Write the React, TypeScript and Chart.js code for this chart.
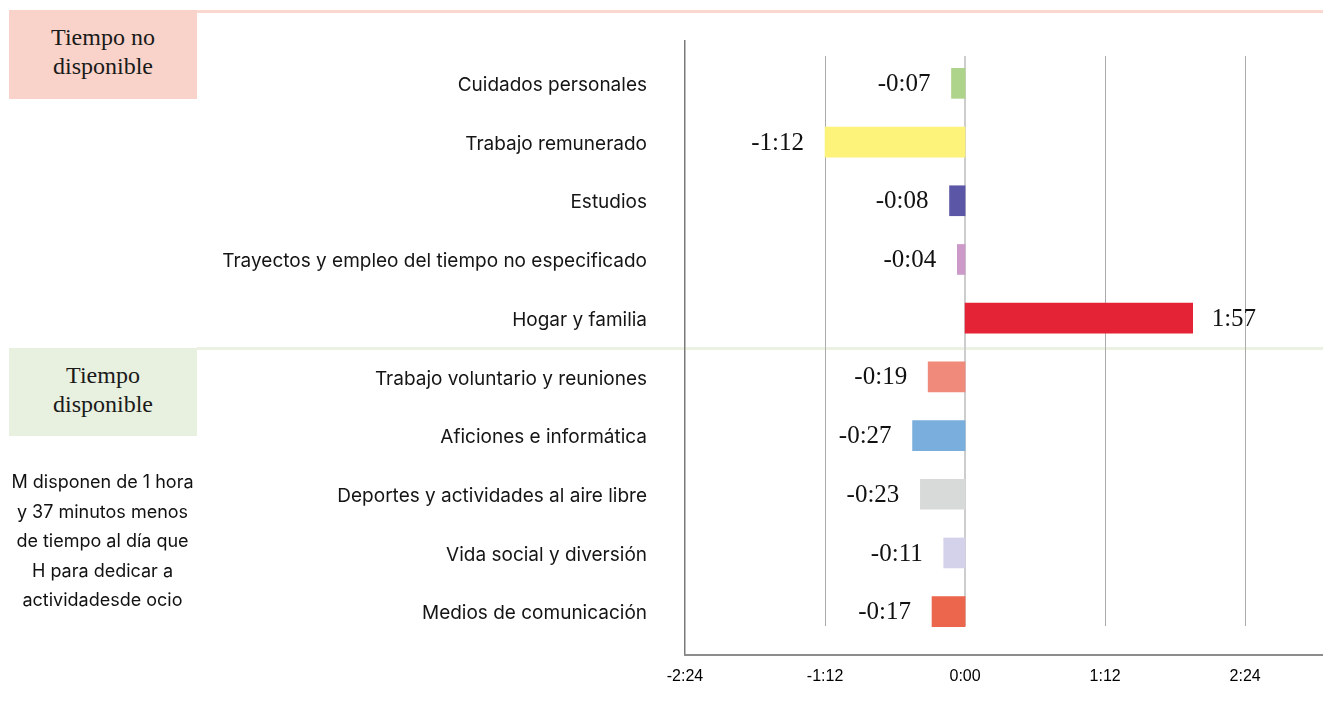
import React, { useEffect, useRef } from 'react';
import { Chart, registerables } from 'chart.js';

Chart.register(...registerables);

const CATEGORIES = [
  'Cuidados personales',
  'Trabajo remunerado',
  'Estudios',
  'Trayectos y empleo del tiempo no especificado',
  'Hogar y familia',
  'Trabajo voluntario y reuniones',
  'Aficiones e informática',
  'Deportes y actividades al aire libre',
  'Vida social y diversión',
  'Medios de comunicación',
];

// difference in minutes per day
const VALUES = [-7, -72, -8, -4, 117, -19, -27, -23, -11, -17];

const COLORS = [
  '#aed38a',
  '#fdf27a',
  '#5b56a6',
  '#cc9ac9',
  '#e52336',
  '#f08a7b',
  '#7aaedd',
  '#d8d9d9',
  '#d4d2ea',
  '#ec654d',
];

const X_TICKS = [-144, -72, 0, 72, 144];
const X_MIN = -144;
const X_MAX = 184;

const NOTE_LINES = [
  'M disponen de 1 hora',
  'y 37 minutos menos',
  'de tiempo al día que',
  'H para dedicar a',
  'actividadesde ocio',
];

function fmt(v: number): string {
  const sign = v < 0 ? '-' : '';
  const a = Math.abs(Math.round(v));
  const h = Math.floor(a / 60);
  const m = a % 60;
  return `${sign}${h}:${m < 10 ? '0' : ''}${m}`;
}

const decor = {
  id: 'decor',
  beforeDraw(chart: any) {
    const ctx = chart.ctx;
    const y = chart.scales.y;
    ctx.save();
    ctx.fillStyle = '#fbd8cf';
    ctx.fillRect(197, 10, 1323 - 197, 3);
    const sepY = (y.getPixelForValue(4) + y.getPixelForValue(5)) / 2;
    ctx.fillStyle = '#ebf2e3';
    ctx.fillRect(197, Math.round(sepY) - 1, 1323 - 197, 3);
    ctx.restore();
  },
  beforeDatasetsDraw(chart: any) {
    const ctx = chart.ctx;
    const ca = chart.chartArea;
    const x = chart.scales.x;
    ctx.save();
    X_TICKS.forEach((v) => {
      if (v === X_MIN) return;
      const px = Math.round(x.getPixelForValue(v));
      if (v === 0) {
        ctx.fillStyle = '#cdcdcd';
        ctx.fillRect(px - 1, ca.top + 2, 2, ca.bottom - ca.top - 17);
      } else {
        ctx.fillStyle = '#ababab';
        ctx.fillRect(px, ca.top + 2, 1, ca.bottom - ca.top - 17);
      }
    });
    // axes
    const left = Math.round(x.getPixelForValue(X_MIN));
    ctx.fillStyle = '#7a7a7a';
    ctx.fillRect(left - 1, 40, 1.5, 615);
    ctx.fillStyle = '#8c8c8c';
    ctx.fillRect(left - 1, 654, 1323 - left + 1, 2);
    ctx.restore();
  },
  afterDatasetsDraw(chart: any) {
    const ctx = chart.ctx;
    const meta = chart.getDatasetMeta(0);
    ctx.save();
    ctx.font = '25px "Liberation Serif", serif';
    ctx.fillStyle = '#111111';
    ctx.textBaseline = 'middle';
    meta.data.forEach((bar: any, i: number) => {
      const v = VALUES[i];
      const txt = fmt(v);
      if (v < 0) {
        ctx.textAlign = 'right';
        ctx.fillText(txt, bar.x - 21, bar.y + 1);
      } else {
        ctx.textAlign = 'left';
        ctx.fillText(txt, bar.x + 19, bar.y + 1);
      }
    });
    ctx.restore();
  },
};

export default function App() {
  const ref = useRef<HTMLCanvasElement | null>(null);

  useEffect(() => {
    if (!ref.current) return;
    const chart = new Chart(ref.current, {
      type: 'bar',
      data: {
        labels: CATEGORIES,
        datasets: [
          {
            data: VALUES,
            backgroundColor: COLORS,
            borderWidth: 0,
            barThickness: 30,
          },
        ],
      },
      options: {
        indexAxis: 'y',
        animation: false,
        responsive: false,
        devicePixelRatio: 1,
        layout: { padding: { top: 54, bottom: 0, left: 0, right: 0 } },
        plugins: {
          legend: { display: false },
          tooltip: { enabled: false },
        },
        scales: {
          x: {
            type: 'linear',
            min: X_MIN,
            max: X_MAX,
            grid: { display: false, drawTicks: false },
            border: { display: false },
            afterBuildTicks: (scale: any) => {
              scale.ticks = X_TICKS.map((v) => ({ value: v }));
            },
            afterFit: (scale: any) => {
              scale.height = 76;
            },
            ticks: {
              autoSkip: false,
              maxRotation: 0,
              padding: 26,
              color: '#000000',
              font: { family: '"Liberation Sans", Arial, sans-serif', size: 16 },
              callback: (v: any) => fmt(Number(v)),
            },
          },
          y: {
            type: 'category',
            grid: { display: false, drawTicks: false },
            border: { display: false },
            afterFit: (scale: any) => {
              scale.width = 685;
            },
            ticks: {
              padding: 38,
              labelOffset: 2,
              color: '#151515',
              font: { family: 'Inter, "Noto Sans", sans-serif', size: 19 },
            },
          },
        },
      },
      plugins: [decor],
    });
    return () => chart.destroy();
  }, []);

  const serif = '"Liberation Serif", "DejaVu Serif", serif';
  const boxStyle: React.CSSProperties = {
    position: 'absolute',
    left: 9,
    width: 188,
    display: 'flex',
    alignItems: 'center',
    justifyContent: 'center',
    textAlign: 'center',
    fontFamily: serif,
    fontSize: 24,
    lineHeight: '29px',
    color: '#1a1a1a',
    boxSizing: 'border-box',
  };

  return (
    <div style={{ position: 'absolute', left: 0, top: 0, width: 1323, height: 717, overflow: 'hidden', background: '#ffffff' }}>
      <canvas ref={ref} width={1323} height={717} style={{ position: 'absolute', left: 0, top: 0, width: 1323, height: 717 }} />
      <div style={{ ...boxStyle, top: 10, height: 89, paddingBottom: 6, background: '#f9d3c9' }}>
        <div>
          Tiempo no
          <br />
          disponible
        </div>
      </div>
      <div style={{ ...boxStyle, top: 348, height: 88, paddingBottom: 4, background: '#e8f0df' }}>
        <div>
          Tiempo
          <br />
          disponible
        </div>
      </div>
      <div
        style={{
          position: 'absolute',
          left: 0,
          top: 467,
          width: 205,
          textAlign: 'center',
          fontFamily: 'Inter, "Noto Sans", sans-serif',
          fontSize: 18,
          lineHeight: '29.5px',
          color: '#111111',
        }}
      >
        {NOTE_LINES.map((l, i) => (
          <div key={i}>{l}</div>
        ))}
      </div>
    </div>
  );
}
